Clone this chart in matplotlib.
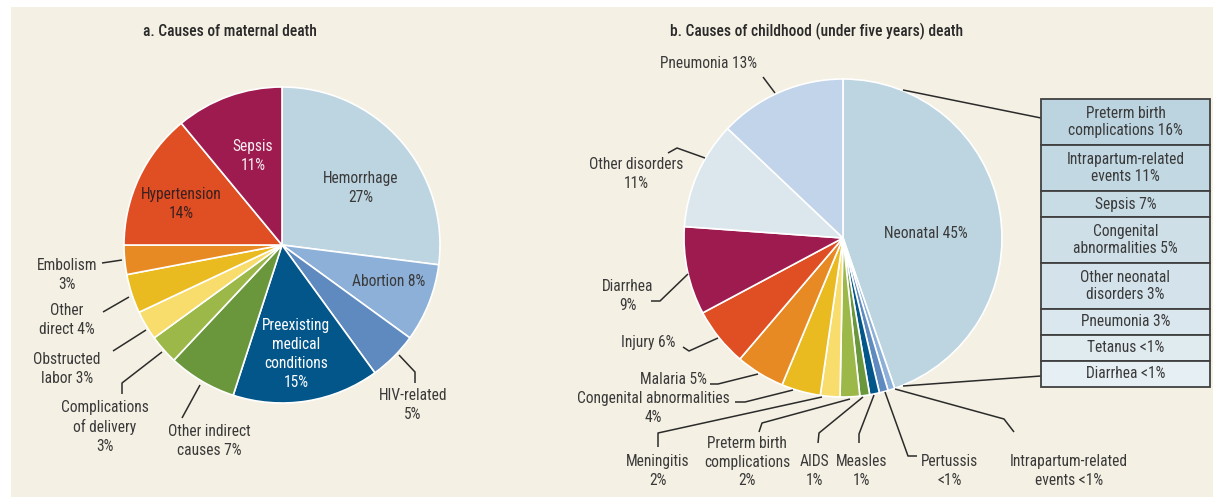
import matplotlib
matplotlib.use("Agg")
import matplotlib.pyplot as plt
from matplotlib.patches import Rectangle

# ---------------- data ----------------
maternal_causes = ["Hemorrhage", "Abortion", "HIV-related", "Preexisting\nmedical\nconditions",
                   "Other indirect\ncauses", "Complications\nof delivery", "Obstructed\nlabor",
                   "Other\ndirect", "Embolism", "Hypertension", "Sepsis"]
maternal_values = [27, 8, 5, 15, 7, 3, 3, 4, 3, 14, 11]
maternal_colors = ["#bdd5e1", "#8db0d8", "#5f8abf", "#02568a", "#6a973c", "#9bb848",
                   "#f8dc6c", "#e9bb21", "#e88a24", "#e04e23", "#9e1b50"]

child_causes = ["Neonatal", "Intrapartum-related\nevents", "Pertussis", "Measles", "AIDS",
                "Preterm birth\ncomplications", "Meningitis", "Congenital abnormalities",
                "Malaria", "Injury", "Diarrhea", "Other disorders", "Pneumonia"]
child_values = [45, 0.7, 0.9, 1, 1, 2, 2, 4, 5, 6, 9, 11, 13]
child_colors = ["#bdd5e1", "#8db0d8", "#5f8abf", "#02568a", "#6a973c", "#9bb848",
                "#f8dc6c", "#e9bb21", "#e88a24", "#e04e23", "#9e1b50", "#dce6ed", "#c2d4ea"]

neonatal_causes = ["Preterm birth\ncomplications", "Intrapartum-related\nevents", "Sepsis",
                   "Congenital\nabnormalities", "Other neonatal\ndisorders", "Pneumonia",
                   "Tetanus", "Diarrhea"]
neonatal_values = [16, 11, 7, 5, 3, 3, 0.5, 0.5]
neonatal_colors = ["#bcd4e0", "#c2d8e3", "#c8dce6", "#cedfe8", "#d4e3eb", "#dae7ee",
                   "#e0ebf0", "#e6eff3"]

titles = ["a. Causes of maternal death", "b. Causes of childhood (under five years) death"]


def pct(v):
    return "<1%" if v < 1 else f"{v:g}%"


# ---------------- figure ----------------
W, H = 1214, 497
plt.rcParams['font.family'] = ['Roboto Condensed', 'Archivo Narrow', 'PT Sans Narrow',
                               'IBM Plex Sans Condensed', 'DejaVu Sans']
TXT = "#3a3a3a"
FS = 11.2
LS = 1.32

fig = plt.figure(figsize=(W / 100, H / 100), dpi=100, facecolor="white")
ax = fig.add_axes([0, 0, 1, 1])


def P(x, y):
    return (x, H - y)


ax.add_patch(Rectangle(P(11, 497), 1202, 490, facecolor="#f4f0e3", edgecolor="none", zorder=0))

wp = dict(edgecolor="white", linewidth=1.2)
ax.pie(maternal_values, colors=maternal_colors, startangle=90, counterclock=False,
       center=P(282, 245), radius=158, wedgeprops=wp, frame=True)
ax.pie(child_values, colors=child_colors, startangle=90, counterclock=False,
       center=P(843, 238), radius=159, wedgeprops=wp, frame=True)

ax.set_xlim(0, W)
ax.set_ylim(0, H)
ax.set_aspect("auto")
ax.axis("off")

ax.text(*P(230, 31), titles[0], ha="center", va="center", fontsize=FS, color="#2a2a2a",
        fontweight="medium")
ax.text(*P(817, 31), titles[1], ha="center", va="center", fontsize=FS, color="#2a2a2a",
        fontweight="medium")


def lab(x, y, s, color=TXT):
    ax.text(*P(x, y), s, ha="center", va="center", fontsize=FS, color=color, linespacing=LS)


def lead(pts):
    xs = [p[0] for p in pts]
    ys = [H - p[1] for p in pts]
    ax.plot(xs, ys, color="#2b2b2b", lw=1.1, solid_capstyle="butt")


# ---- maternal labels (index into data) ----
m = maternal_causes
mv = maternal_values
lab(361, 188, f"{m[0]}\n{pct(mv[0])}")
lab(389, 282, f"{m[1]} {pct(mv[1])}")
lab(413, 405, f"{m[2]}\n{pct(mv[2])}")
lead([(399, 355), (415, 372), (415, 383)])
lab(296, 354, f"{m[3]}\n{pct(mv[3])}", color="white")
lab(209, 441, f"{m[4]} {pct(mv[4])}")
lead([(200, 385), (182, 418)])
lab(105, 427, f"{m[5]}\n{pct(mv[5])}")
lead([(162, 352), (122, 383), (122, 394)])
lab(67, 369, f"{m[6]} {pct(mv[6])}")
lead([(146, 330), (113, 351)])
lab(67, 320, f"{m[7]} {pct(mv[7])}")
lead([(129, 297), (103, 312)])
lab(67, 275, f"{m[8]}\n{pct(mv[8])}")
lead([(122, 260), (102, 263)])
lab(181, 204, f"{m[9]}\n{pct(mv[9])}", color="#3a2020")
lab(253, 156, f"{m[10]}\n{pct(mv[10])}", color="#f6eef2")

# ---- child labels ----
c = child_causes
cv = child_values
lab(926, 234, f"{c[0]} {pct(cv[0])}")
lab(1069, 471, f"{c[1]} {pct(cv[1])}")
lead([(895, 389), (1004, 419), (1014, 432)])
lab(950, 471, f"{c[2]}\n{pct(cv[2])}")
lead([(885, 392), (908, 456), (917, 456)])
lab(862, 471, f"{c[3]}\n{pct(cv[3])}")
lead([(874, 395), (859, 434), (859, 443)])
lab(815, 471, f"{c[4]}\n{pct(cv[4])}")
lead([(863, 397), (819, 433), (818, 443)])
lab(747, 462, f"{c[5]}\n{pct(cv[5])}")
lead([(850, 399), (762, 423), (759, 432)])
lab(658, 471, f"{c[6]}\n{pct(cv[6])}")
lead([(822, 397), (658, 433), (658, 447)])
lab(653, 408, f"{c[7]}\n{pct(cv[7])}")
lead([(793, 390), (745, 402), (735, 402)])
lab(674, 379, f"{c[8]} {pct(cv[8])}")
lead([(758, 374), (718, 384), (710, 384)])
lab(648, 342, f"{c[9]} {pct(cv[9])}")
lead([(718, 338), (689, 351), (683, 347)])
lab(628, 296, f"{c[10]}\n{pct(cv[10])}")
lead([(688, 274), (660, 301), (651, 301)])
lab(636, 174, f"{c[11]}\n{pct(cv[11])}")
lead([(705, 158), (677, 148), (668, 153)])
lab(709, 64, f"{c[12]} {pct(cv[12])}")
lead([(775, 93), (763, 77)])

# ---- neonatal breakdown table ----
x0, x1 = 1041, 1210
y = 99
for name, v, col in zip(neonatal_causes, neonatal_values, neonatal_colors):
    n = name.count("\n") + 1
    h = 46 if n == 2 else 26
    ax.add_patch(Rectangle(P(x0, y + h), x1 - x0, h, facecolor=col, edgecolor="#404040",
                           linewidth=1.3, zorder=3))
    ax.text(*P((x0 + x1) / 2, y + h / 2), f"{name} {pct(v)}", ha="center", va="center",
            fontsize=FS, color=TXT, linespacing=1.2, zorder=4)
    y += h

lead([(903, 90), (1041, 118)])
lead([(903, 386), (1041, 376)])

fig.savefig("out.png", dpi=100, facecolor="white")
